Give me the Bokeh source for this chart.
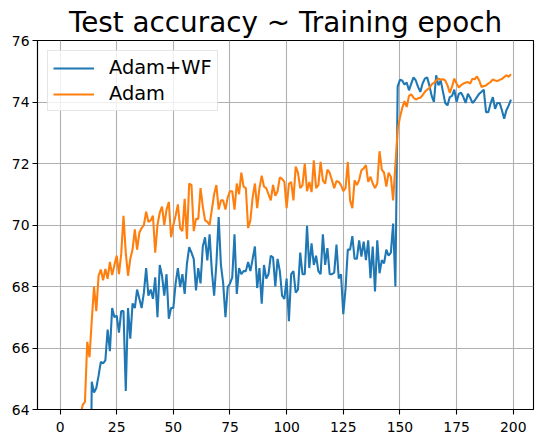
from bokeh.plotting import figure
from bokeh.models import Range1d, FixedTicker, Legend, LegendItem
from bokeh.embed import file_html
from bokeh.resources import INLINE

# ---- data ----
epochs = list(range(200))

adam_wf = [
    38.5, 44.2, 47.9, 50.3, 52.1, 53.4, 54.2, 55.0, 55.6, 56.1,
    56.5, 57.0, 57.3, 57.8, 64.9, 64.55, 64.7, 65.1, 65.55, 65.5,
    65.6, 66.6, 65.9, 67.3, 67.0, 67.05, 66.5, 67.2, 67.2, 64.6,
    67.3, 66.3, 67.45, 67.3, 67.9, 67.6, 67.3, 67.8, 68.6, 67.7,
    67.9, 67.6, 68.3, 67.0, 68.7, 68.35, 67.7, 68.4, 66.95, 67.3,
    67.3, 68.1, 68.6, 67.98, 68.4, 67.76, 68.74, 69.28, 69.1, 68.9,
    67.87, 68.6, 68.1, 69.3, 69.6, 68.85, 69.7, 68.5, 67.7, 68.74,
    70.26, 68.7, 68.1, 67.0, 67.98, 68.1, 68.3, 69.7, 67.76, 68.6,
    68.4, 68.5, 68.5, 68.8, 68.5, 68.9, 69.3, 67.95, 68.6, 67.44,
    68.7, 68.26, 68.4, 69.0, 68.95, 68.0, 68.9, 68.5, 67.7, 67.6,
    68.26, 66.87, 68.4, 68.5, 67.8, 67.9, 69.1, 68.4, 68.4, 69.97,
    68.6, 69.4, 68.7, 69.0, 68.5, 68.4, 69.7, 68.7, 69.25, 68.4,
    68.4, 68.45, 69.36, 68.26, 68.4, 67.1, 67.93, 69.2, 69.2, 69.64,
    68.9, 68.9, 69.5, 68.97, 69.46, 68.86, 69.5, 68.27, 69.3, 67.84,
    69.5, 68.43, 68.86, 68.75, 69.2, 69.0, 69.1, 70.05, 68.0, 74.5,
    74.72, 74.7, 74.57, 74.63, 74.38, 74.6, 74.8, 74.7, 74.49, 74.33,
    74.6, 74.76, 74.8, 74.54, 74.2, 74.0, 74.87, 74.54, 74.7, 74.33,
    73.97, 73.89, 74.16, 74.2, 74.4, 74.0, 74.27, 74.3, 74.16, 73.97,
    74.27, 74.14, 73.97, 74.05, 74.16, 74.27, 74.33, 74.4, 73.67, 73.67,
    73.95, 74.16, 73.78, 73.97, 73.97, 73.73, 73.46, 73.73, 73.89, 74.08,
]

adam = [
    45.0, 50.3, 53.6, 56.0, 57.8, 59.1, 60.3, 61.4, 62.5, 63.8,
    64.15, 64.25, 66.2, 65.7, 66.9, 68.0, 67.2, 68.35, 68.55, 68.2,
    68.57, 68.25, 68.8, 68.37, 68.7, 69.0, 68.4, 69.06, 70.3, 69.1,
    68.35, 68.9, 69.2, 69.86, 69.2, 69.75, 69.9, 70.0, 70.43, 70.1,
    70.15, 70.3, 69.1, 70.0, 70.4, 70.6, 70.0, 70.5, 70.75, 69.6,
    70.0, 70.3, 70.67, 69.9, 69.8, 70.85, 69.55, 71.35, 71.3, 69.8,
    70.2, 70.2, 71.2, 70.6, 70.15, 70.1, 70.0, 70.5, 71.0, 71.3,
    70.5, 70.8, 70.8, 70.5, 70.9, 71.1, 71.1, 70.5, 71.35, 71.0,
    71.7, 71.25, 71.2, 69.9, 70.15, 70.9, 71.35, 70.55, 71.2, 71.6,
    71.25, 71.2, 71.0, 70.8, 71.3, 70.95, 71.1, 71.55, 71.5, 71.4,
    70.55, 71.34, 71.4, 70.8, 71.9, 71.7, 71.2, 71.3, 72.0, 71.1,
    71.4, 71.07, 72.1, 71.2, 71.3, 72.05, 71.45, 71.34, 71.8, 71.7,
    71.45, 71.2, 71.43, 71.4, 71.3, 71.1, 71.2, 72.05, 70.8, 70.55,
    71.45, 71.3, 71.46, 71.78, 71.84, 71.95, 71.4, 71.57, 71.35, 71.2,
    71.35, 72.4, 71.8, 71.7, 71.25, 71.7, 71.57, 70.8, 71.95, 73.1,
    73.5, 73.8, 74.03, 73.84, 74.2, 74.25, 74.14, 74.08, 74.12, 74.14,
    74.22, 74.33, 74.4, 74.45, 74.57, 74.62, 74.7, 74.76, 74.73, 74.74,
    74.7, 74.54, 74.3, 74.5, 74.76, 74.6, 74.47, 74.55, 74.6, 74.63,
    74.65, 74.6, 74.76, 74.74, 74.83, 74.7, 74.49, 74.52, 74.54, 74.6,
    74.65, 74.73, 74.7, 74.68, 74.72, 74.75, 74.81, 74.87, 74.82, 74.9,
]

series_names = ["Adam+WF", "Adam"]
series_colors = ["#1f77b4", "#ff7f0e"]
x_ticks = [0, 25, 50, 75, 100, 125, 150, 175, 200]
y_ticks = [64, 66, 68, 70, 72, 74, 76]
title_text = "Test accuracy ~ Training epoch"

FONT = "DejaVu Sans"

p = figure(
    width=543, height=443,
    x_range=Range1d(-9.95, 208.95), y_range=Range1d(64, 76),
    output_backend="svg", toolbar_location=None,
    min_border_left=37, min_border_right=10, min_border_top=40, min_border_bottom=34,
    title=title_text,
)
p.title.text_font = FONT
p.title.text_font_size = "27.8px"
p.title.text_font_style = "normal"
p.title.align = "center"
p.title.text_color = "black"
p.title.standoff = 3
p.title.offset = 0

p.background_fill_color = "white"
p.border_fill_color = "white"
p.outline_line_color = "black"
p.outline_line_width = 1.1
p.outline_line_alpha = 1.0

for ax, ticks, so in ((p.xaxis[0], x_ticks, 7), (p.yaxis[0], y_ticks, 3)):
    ax.ticker = FixedTicker(ticks=ticks)
    ax.axis_line_color = "black"
    ax.axis_line_width = 1.1
    ax.major_tick_line_color = "black"
    ax.major_tick_line_width = 1.1
    ax.major_tick_out = 5
    ax.major_tick_in = 0
    ax.minor_tick_line_color = None
    ax.major_label_text_font = FONT
    ax.major_label_text_font_size = "13.9px"
    ax.major_label_text_color = "black"
    ax.major_label_standoff = so

for g in (p.xgrid[0], p.ygrid[0]):
    g.grid_line_color = "#b0b0b0"
    g.grid_line_width = 1.1

r1 = p.line(epochs, adam_wf, line_color=series_colors[0], line_width=2.08)
r2 = p.line(epochs, adam, line_color=series_colors[1], line_width=2.08)

legend = Legend(items=[LegendItem(label=series_names[0], renderers=[r1]),
                       LegendItem(label=series_names[1], renderers=[r2])])
legend.location = "top_left"
legend.margin = 10
legend.padding = 5
legend.spacing = 3
legend.glyph_width = 41
legend.glyph_height = 22
legend.label_height = 22
legend.label_standoff = 15
legend.label_text_font = FONT
legend.label_text_font_size = "19.4px"
legend.label_text_baseline = "middle"
legend.label_text_color = "black"
legend.border_line_color = "#cccccc"
legend.border_line_width = 1.1
legend.background_fill_color = "white"
legend.background_fill_alpha = 0.8
p.add_layout(legend, "center")

open("out.html", "w").write(file_html(p, INLINE))
